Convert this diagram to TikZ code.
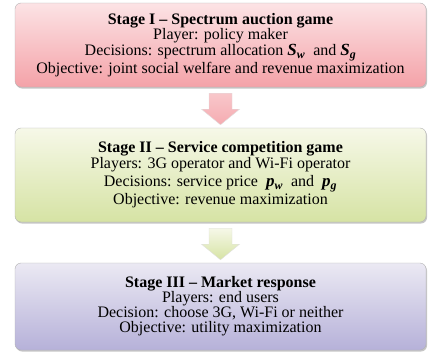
\documentclass[tikz,border=0pt]{standalone}
\usepackage{fontspec}
\setmainfont{Liberation Serif}
\usetikzlibrary{shadows,calc}

\definecolor{pinkTop}{HTML}{FCE3E5}
\definecolor{pinkBot}{HTML}{F4A2A8}
\definecolor{greenTop}{HTML}{F6F8E8}
\definecolor{greenBot}{HTML}{D6E3A4}
\definecolor{lilacTop}{HTML}{EBE9F3}
\definecolor{lilacBot}{HTML}{B6B1D9}

\newcommand{\bvar}[2]{\textbf{\textit{\fontsize{17}{15}\selectfont #1\textsubscript{#2}}}}

\begin{document}
\begin{tikzpicture}[x=1pt,y=1pt]
	\tikzset{stagebox/.style={draw=gray!60, rounded corners=6pt, minimum width=411pt,
		align=center, font=\fontsize{16}{15}\selectfont,
		drop shadow={shadow xshift=1pt,shadow yshift=-1.5pt,opacity=0.45}},
		blockarrow/.style={draw=gray!25, line width=0.4pt}}
	\useasboundingbox (0,0) rectangle (428,-356);
	% stages
	\node [stagebox, minimum height=84pt, top color=pinkTop, bottom color=pinkBot] (stageA) at (220.5,-45)
		{\textbf{Stage I – Spectrum auction game}\\ Player: policy maker\\[1.5pt]
		 Decisions: spectrum allocation \bvar{S}{w} \ and \bvar{S}{g}\\
		 Objective: joint social welfare and revenue maximization};
	\node [stagebox, minimum height=94pt, top color=greenTop, bottom color=greenBot] (stageB) at (220.5,-175)
		{\textbf{Stage II – Service competition game}\\[1pt] Players: 3G operator and Wi-Fi operator\\[3pt]
		 Decisions: service price \ \bvar{p}{w} \ and \ \bvar{p}{g}\\[1pt]
		 Objective: revenue maximization};
	\node [stagebox, minimum height=87pt, top color=lilacTop, bottom color=lilacBot] (stageC) at (220.5,-306.5)
		{\textbf{Stage III – Market response}\\ Players: end users\\
		 Decision: choose 3G, Wi-Fi or neither\\
		 Objective: utility maximization};
	% arrows between stages
	\shade [blockarrow, top color=pinkBot!60, bottom color=pinkBot!90]
		($(stageA.south)+(-11.5,-6)$) -- ++(23,0) -- ++(0,-16) -- ++(7.5,0)
		-- ($(stageB.north)+(0,3)$) -- ($(stageA.south)+(-19,-22)$) -- ++(7.5,0) -- cycle;
	\shade [blockarrow, top color=greenTop, bottom color=greenBot]
		($(stageB.south)+(-11.5,-6)$) -- ++(23,0) -- ++(0,-16) -- ++(7.5,0)
		-- ($(stageC.north)+(0,3)$) -- ($(stageB.south)+(-19,-22)$) -- ++(7.5,0) -- cycle;
\end{tikzpicture}
\end{document}
